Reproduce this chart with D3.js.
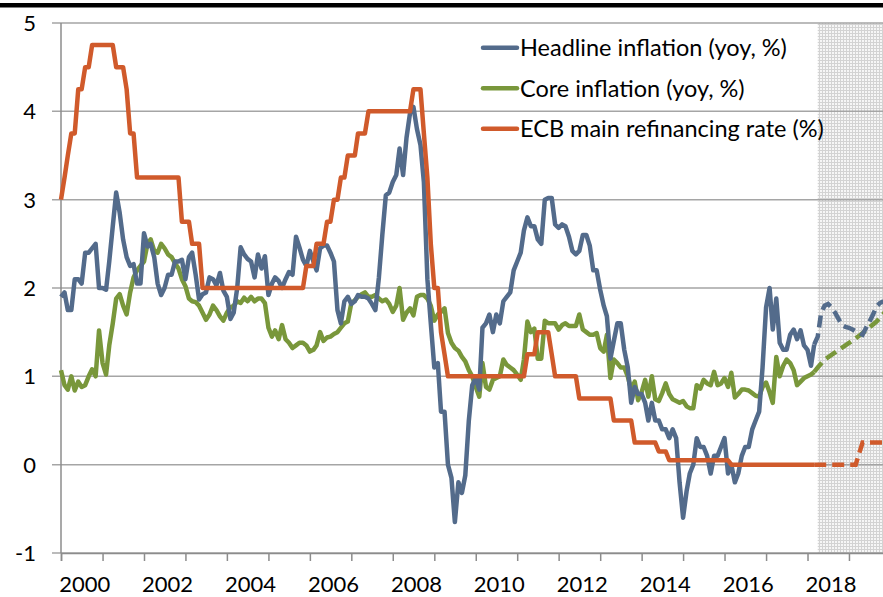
<!DOCTYPE html>
<html>
<head>
<meta charset="utf-8">
<script src="https://cdn.jsdelivr.net/npm/d3@7"></script>
<style>
  body { margin: 0; background: #fff; }
  svg { display: block; font-family: Lato, "Open Sans", sans-serif; }
</style>
</head>
<body>
<div class="chart"></div>
<script>
// monthly series, Jan 2000 .. Mar 2018 (one row per year)
const startMonth = new Date(2000, 0, 1);

const headline = [
  1.9, 1.95, 1.75, 1.75, 2.1, 2.1, 2.05, 2.4, 2.4, 2.45, 2.5, 2.0,
  2.0, 1.98, 2.3, 2.7, 3.08, 2.85, 2.55, 2.35, 2.25, 2.27, 2.05, 2.05,
  2.62, 2.47, 2.5, 2.35, 2.05, 1.92, 2.0, 2.15, 2.15, 2.3, 2.3, 2.32,
  2.1, 2.35, 2.4, 2.15, 1.87, 1.93, 1.95, 2.12, 2.1, 2.03, 2.17, 1.97,
  1.9, 1.65, 1.72, 2.0, 2.46, 2.38, 2.33, 2.3, 2.12, 2.38, 2.22, 2.36,
  1.92, 2.05, 2.12, 2.08, 2.0, 2.1, 2.18, 2.15, 2.58, 2.46, 2.32, 2.25,
  2.42, 2.3, 2.2, 2.45, 2.48, 2.48, 2.4, 2.3, 1.75, 1.6, 1.85, 1.9,
  1.82, 1.85, 1.92, 1.9, 1.9, 1.88, 1.82, 1.75, 2.12, 2.6, 3.05, 3.08,
  3.2, 3.28, 3.58, 3.28, 3.7, 3.98, 4.05, 3.8, 3.62, 3.2, 2.1, 1.6,
  1.1, 1.15, 0.6, 0.6, 0.0, -0.15, -0.65, -0.2, -0.32, -0.12, 0.5, 0.9,
  0.98, 0.85, 1.55, 1.6, 1.7, 1.5, 1.7, 1.6, 1.85, 1.9, 1.95, 2.2,
  2.3, 2.4, 2.65, 2.8, 2.7, 2.7, 2.55, 2.5, 3.0, 3.02, 3.02, 2.72,
  2.68, 2.72, 2.7, 2.58, 2.42, 2.38, 2.42, 2.6, 2.6, 2.48, 2.2, 2.2,
  1.98, 1.8, 1.68, 1.2, 1.4, 1.6, 1.6, 1.3, 1.1, 0.7, 0.88, 0.8,
  0.8, 0.7, 0.5, 0.7, 0.5, 0.5, 0.4, 0.4, 0.3, 0.4, 0.3, -0.2,
  -0.6, -0.3, -0.1, 0.0, 0.3, 0.2, 0.2, 0.1, -0.1, 0.1, 0.1, 0.2,
  0.3, -0.1, 0.0, -0.2, -0.1, 0.1, 0.2, 0.2, 0.4, 0.5, 0.6, 1.1,
  1.78, 2.0, 1.53, 1.88, 1.38, 1.3, 1.3, 1.47, 1.53, 1.42, 1.52, 1.35,
  1.3, 1.12, 1.36
];

const core = [
  1.07, 0.9, 0.85, 1.0, 0.84, 0.94, 0.88, 0.9, 1.0, 1.08, 1.0, 1.52,
  1.15, 1.02, 1.35, 1.6, 1.88, 1.93, 1.8, 1.7, 1.95, 2.12, 2.2, 2.25,
  2.3, 2.5, 2.55, 2.42, 2.4, 2.5, 2.45, 2.38, 2.35, 2.28, 2.22, 2.1,
  2.02, 1.88, 1.85, 1.84, 1.8, 1.72, 1.64, 1.7, 1.8, 1.75, 1.68, 1.63,
  1.72, 1.78, 1.8, 1.85, 1.83, 1.89, 1.85, 1.9, 1.85, 1.88, 1.88, 1.83,
  1.55, 1.45, 1.52, 1.42, 1.58, 1.42, 1.38, 1.32, 1.35, 1.38, 1.38, 1.35,
  1.28, 1.3, 1.35, 1.5, 1.4, 1.44, 1.45, 1.48, 1.5, 1.55, 1.6, 1.62,
  1.83, 1.86, 1.9, 1.93, 1.95, 1.9, 1.9, 1.92, 1.88, 1.85, 1.87, 1.82,
  1.73, 1.8, 2.0, 1.64, 1.72, 1.77, 1.69, 1.9, 1.92, 1.92, 1.88, 1.8,
  1.63, 1.7, 1.73, 1.77, 1.49, 1.38, 1.32, 1.29, 1.22, 1.17, 1.07, 1.0,
  0.88, 0.77, 1.15, 0.88, 0.85, 0.96, 0.98, 1.0, 1.19, 1.13, 1.1, 1.07,
  1.02, 0.96, 1.19, 1.62, 1.5, 1.54, 1.2, 1.2, 1.63, 1.6, 1.6, 1.6,
  1.53, 1.58, 1.6, 1.57, 1.57, 1.57, 1.7, 1.53, 1.5, 1.47, 1.47, 1.49,
  1.32, 1.28, 1.47, 0.98, 1.19, 1.15, 1.1, 1.1, 1.0, 0.85, 0.94, 0.73,
  0.82, 0.96, 0.77, 1.0, 0.74, 0.72, 0.81, 0.92, 0.8, 0.74, 0.72, 0.7,
  0.72, 0.66, 0.64, 0.64, 0.9, 0.86, 0.96, 0.92, 0.9, 1.05, 0.9, 0.92,
  0.98, 0.88, 1.04, 0.76, 0.8, 0.85, 0.85, 0.84, 0.81, 0.78, 0.77, 0.88,
  0.93, 0.82, 0.7, 1.22, 1.0, 1.12, 1.19, 1.15, 1.07, 0.9, 0.94, 0.98,
  1.0, 1.02, 1.05
];

const ecbRate = [
  3.0, 3.25, 3.5, 3.75, 3.75, 4.25, 4.25, 4.5, 4.5, 4.75, 4.75, 4.75,
  4.75, 4.75, 4.75, 4.75, 4.5, 4.5, 4.5, 4.25, 3.75, 3.75, 3.25, 3.25,
  3.25, 3.25, 3.25, 3.25, 3.25, 3.25, 3.25, 3.25, 3.25, 3.25, 3.25, 2.75,
  2.75, 2.75, 2.5, 2.5, 2.5, 2.0, 2.0, 2.0, 2.0, 2.0, 2.0, 2.0,
  2.0, 2.0, 2.0, 2.0, 2.0, 2.0, 2.0, 2.0, 2.0, 2.0, 2.0, 2.0,
  2.0, 2.0, 2.0, 2.0, 2.0, 2.0, 2.0, 2.0, 2.0, 2.0, 2.0, 2.25,
  2.25, 2.25, 2.5, 2.5, 2.5, 2.75, 2.75, 3.0, 3.0, 3.25, 3.25, 3.5,
  3.5, 3.5, 3.75, 3.75, 3.75, 4.0, 4.0, 4.0, 4.0, 4.0, 4.0, 4.0,
  4.0, 4.0, 4.0, 4.0, 4.0, 4.0, 4.25, 4.25, 4.25, 3.75, 3.25, 2.5,
  2.0, 2.0, 1.5, 1.25, 1.0, 1.0, 1.0, 1.0, 1.0, 1.0, 1.0, 1.0,
  1.0, 1.0, 1.0, 1.0, 1.0, 1.0, 1.0, 1.0, 1.0, 1.0, 1.0, 1.0,
  1.0, 1.0, 1.0, 1.25, 1.25, 1.25, 1.5, 1.5, 1.5, 1.5, 1.25, 1.0,
  1.0, 1.0, 1.0, 1.0, 1.0, 1.0, 0.75, 0.75, 0.75, 0.75, 0.75, 0.75,
  0.75, 0.75, 0.75, 0.75, 0.5, 0.5, 0.5, 0.5, 0.5, 0.5, 0.25, 0.25,
  0.25, 0.25, 0.25, 0.25, 0.25, 0.15, 0.15, 0.15, 0.05, 0.05, 0.05, 0.05,
  0.05, 0.05, 0.05, 0.05, 0.05, 0.05, 0.05, 0.05, 0.05, 0.05, 0.05, 0.05,
  0.05, 0.05, 0.0, 0.0, 0.0, 0.0, 0.0, 0.0, 0.0, 0.0, 0.0, 0.0,
  0.0, 0.0, 0.0, 0.0, 0.0, 0.0, 0.0, 0.0, 0.0, 0.0, 0.0, 0.0,
  0.0, 0.0, 0.0
];

// projections (dashed)
const headlineForecast = [
  ["2018-03", 1.36], ["2018-04", 1.45], ["2018-05", 1.72], ["2018-06", 1.8],
  ["2018-07", 1.82], ["2018-08", 1.78], ["2018-09", 1.72], ["2018-10", 1.65],
  ["2018-11", 1.58], ["2018-12", 1.56], ["2019-01", 1.55], ["2019-02", 1.53],
  ["2019-03", 1.51], ["2019-04", 1.49], ["2019-05", 1.47], ["2019-06", 1.55],
  ["2019-07", 1.62], ["2019-08", 1.7], ["2019-09", 1.79], ["2019-10", 1.83],
  ["2019-11", 1.85]
];
const coreForecast = [
  ["2018-03", 1.05], ["2018-04", 1.1], ["2018-06", 1.19], ["2018-09", 1.27],
  ["2018-12", 1.35], ["2019-03", 1.43], ["2019-06", 1.52], ["2019-09", 1.62],
  ["2019-12", 1.75]
];
const ecbForecast = [
  ["2018-03", 0.0], ["2019-03", 0.0], ["2019-05", 0.25], ["2019-12", 0.25]
];

const projectionStart = "2018-04";
const seriesNames = ["Headline inflation (yoy, %)", "Core inflation (yoy, %)", "ECB main refinancing rate (%)"];
const colors = ["#536b8b", "#79973b", "#d05a2b"];
const yTicks = [-1, 0, 1, 2, 3, 4, 5];
const labelYears = [2000, 2002, 2004, 2006, 2008, 2010, 2012, 2014, 2016, 2018];

const W = 883, H = 597;
const margin = {top: 23, left: 61, bottom: 44, right: 0};
const height = H - margin.top - margin.bottom;
const parseMonth = d3.timeParse("%Y-%m");

const svg = d3.select('.chart').append('svg')
    .attr('width', W)
    .attr('height', H);

const x = d3.scaleTime()
    .domain([new Date(2000, 0, 1), new Date(2020, 0, 1)])
    .range([margin.left, margin.left + 20 * 41.47]);

const y = d3.scaleLinear()
    .domain([-1, 5])
    .range([margin.top + height, margin.top]);

const monthly = arr => arr.map((v, i) => ({date: d3.timeMonth.offset(startMonth, i), value: v}));
const fromPairs = arr => arr.map(d => ({date: parseMonth(d[0]), value: d[1]}));

// shaded projection area (fine grey grid texture)
const defs = svg.append('defs');
const pat = defs.append('pattern')
    .attr('id', 'dots')
    .attr('width', 3).attr('height', 3)
    .attr('patternUnits', 'userSpaceOnUse');
pat.append('rect').attr('width', 3).attr('height', 3).attr('fill', '#f6f6f6');
pat.append('rect').attr('width', 3).attr('height', 1).attr('fill', '#d3d3d3');
pat.append('rect').attr('width', 1).attr('height', 3).attr('fill', '#d3d3d3');

svg.append('rect')
    .attr('x', x(parseMonth(projectionStart)))
    .attr('y', y(5))
    .attr('width', W - x(parseMonth(projectionStart)))
    .attr('height', y(-1) - y(5))
    .attr('fill', 'url(#dots)');

// top black rule
svg.append('rect')
    .attr('x', 0).attr('y', 3)
    .attr('width', W).attr('height', 4.5)
    .attr('fill', '#000');

// horizontal gridlines (extend left as ticks)
svg.append('g')
    .selectAll('line')
    .data(yTicks)
    .enter()
    .append('line')
    .attr('x1', margin.left - 9)
    .attr('x2', W)
    .attr('y1', d => y(d))
    .attr('y2', d => y(d))
    .attr('stroke', '#a5a5a5')
    .attr('stroke-width', 1.5);

// y axis line
svg.append('line')
    .attr('x1', margin.left).attr('x2', margin.left)
    .attr('y1', y(5)).attr('y2', y(-1))
    .attr('stroke', '#8c8c8c')
    .attr('stroke-width', 1.5);

// x axis ticks (every year), labels every 2 years
const xAxis = d3.axisBottom(x)
    .ticks(d3.timeYear.every(1))
    .tickSize(8)
    .tickFormat('');

svg.append('g')
    .attr('class', 'x-axis')
    .attr('transform', `translate(0, ${y(-1)})`)
    .call(xAxis)
    .call(g => g.select('.domain').attr('stroke', '#8c8c8c').attr('stroke-width', 1.5))
    .call(g => g.selectAll('.tick line').attr('stroke', '#8c8c8c').attr('stroke-width', 1.5));

svg.append('g')
    .selectAll('text')
    .data(labelYears)
    .enter()
    .append('text')
    .attr('x', d => x(new Date(d, 6, 1)) + 3)
    .attr('y', 592)
    .attr('text-anchor', 'middle')
    .attr('font-size', 22)
    .attr('fill', '#000')
    .text(d => d);

svg.append('g')
    .selectAll('text')
    .data(yTicks)
    .enter()
    .append('text')
    .attr('x', 36)
    .attr('y', d => y(d) + 8)
    .attr('text-anchor', 'end')
    .attr('font-size', 22)
    .attr('fill', '#000')
    .text(d => d);

// lines
const line = d3.line()
    .x(d => x(d.date))
    .y(d => y(d.value));

const solid = [monthly(headline), monthly(core), monthly(ecbRate)];
const dashed = [fromPairs(headlineForecast), fromPairs(coreForecast), fromPairs(ecbForecast)];

const plot = svg.append('g');

// core under headline, ECB rate on top
[1, 0, 2].forEach(i => {
    plot.append('path')
        .datum(dashed[i])
        .attr('d', line)
        .attr('fill', 'none')
        .attr('stroke', colors[i])
        .attr('stroke-width', 4.5)
        .attr('stroke-dasharray', '12,6');
    plot.append('path')
        .datum(solid[i])
        .attr('d', line)
        .attr('fill', 'none')
        .attr('stroke', colors[i])
        .attr('stroke-width', 4.5)
        .attr('stroke-linejoin', 'round');
});

// legend
const legend = svg.selectAll('.legend')
    .data(seriesNames)
    .enter()
    .append('g')
    .attr('class', 'legend')
    .attr('transform', (d, i) => `translate(483, ${47.7 + i * 40.5})`);

legend.append('line')
    .attr('x1', 0).attr('x2', 34)
    .attr('stroke', (d, i) => colors[i])
    .attr('stroke-width', 4.5)
    .attr('stroke-linecap', 'round');

legend.append('text')
    .attr('x', 37)
    .attr('y', 8.5)
    .attr('font-size', 23.5)
    .attr('fill', '#000')
    .text(d => d);
</script>
</body>
</html>
